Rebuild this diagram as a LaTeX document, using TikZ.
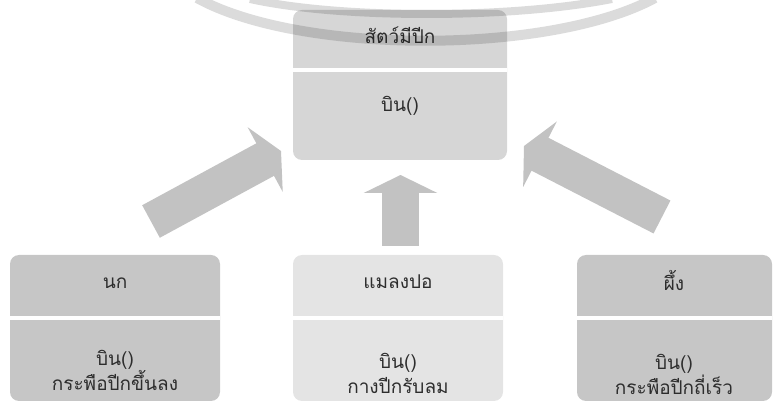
\documentclass[tikz,border=0pt]{standalone}
\usepackage{fontspec}
\newfontfamily\thaifont[Script=Thai]{Loma}
\usetikzlibrary{arrows.meta}
\definecolor{boxdark}{RGB}{198,198,198}
\definecolor{boxmid}{RGB}{214,214,214}
\definecolor{boxlight}{RGB}{228,228,228}
\definecolor{arrowgray}{RGB}{194,194,194}
\definecolor{txt}{RGB}{45,45,45}
\begin{document}
\begin{tikzpicture}[x=1pt,y=-1pt,
  classbox/.style={rounded corners=9pt, inner sep=0pt, draw=none},
  lbl/.style={font=\thaifont\fontsize{19}{25}\selectfont, text=txt, align=center, inner sep=0pt},
  sepline/.style={white, line width=3.5pt},
  fatarrow/.style={arrowgray, line width=37pt, -{Triangle[width=73pt,length=18pt]}},
  wmark/.style={black, opacity=0.14}
]
\useasboundingbox (0,0) rectangle (780,403);

% boxes
\node[classbox, fill=boxmid, minimum width=214pt, minimum height=150pt] (animal) at (400,85) {};
\node[classbox, fill=boxdark, minimum width=210pt, minimum height=146pt] (bird) at (115,328) {};
\node[classbox, fill=boxlight, minimum width=210pt, minimum height=146pt] (dragonfly) at (398,328) {};
\node[classbox, fill=boxdark, minimum width=195pt, minimum height=146pt] (bee) at (674.5,328) {};

% separators
\draw[sepline] (293,70) -- (507,70);
\draw[sepline] (10,318) -- (220,318);
\draw[sepline] (293,318) -- (503,318);
\draw[sepline] (577,318) -- (772,318);

% texts
\node[lbl] (animalname) at (400,35) {สัตว์มีปีก};
\node[lbl] (animalop) at (400,106) {บิน()};
\node[lbl] (birdname) at (115,283) {นก};
\node[lbl] (birdop) at (115,370) {บิน()\\กระพือปีกขึ้นลง};
\node[lbl] (dragonname) at (398,282) {แมลงปอ};
\node[lbl] (dragonop) at (398,373) {บิน()\\กางปีกรับลม};
\node[lbl] (beename) at (674,280) {ผึ้ง};
\node[lbl] (beeop) at (674,374) {บิน()\\กระพือปีกถี่เร็ว};

% arrows
\coordinate (birdtail) at (151,221.5);
\coordinate (birdtip) at (281,151);
\coordinate (dragontail) at (400.5,246);
\coordinate (dragontip) at (400.5,175);
\coordinate (beetail) at (662,217);
\coordinate (beetip) at (524,146);
\draw[fatarrow] (birdtail) -- (birdtip);
\draw[fatarrow] (dragontail) -- (dragontip);
\draw[fatarrow] (beetail) -- (beetip);

% watermark arcs
\draw[wmark, line width=10pt] (197,-2) .. controls (300,55) and (550,55) .. (655,-2);
\draw[wmark, line width=8pt] (250,-1) .. controls (340,19) and (510,19) .. (612,-1);
\end{tikzpicture}
\end{document}
